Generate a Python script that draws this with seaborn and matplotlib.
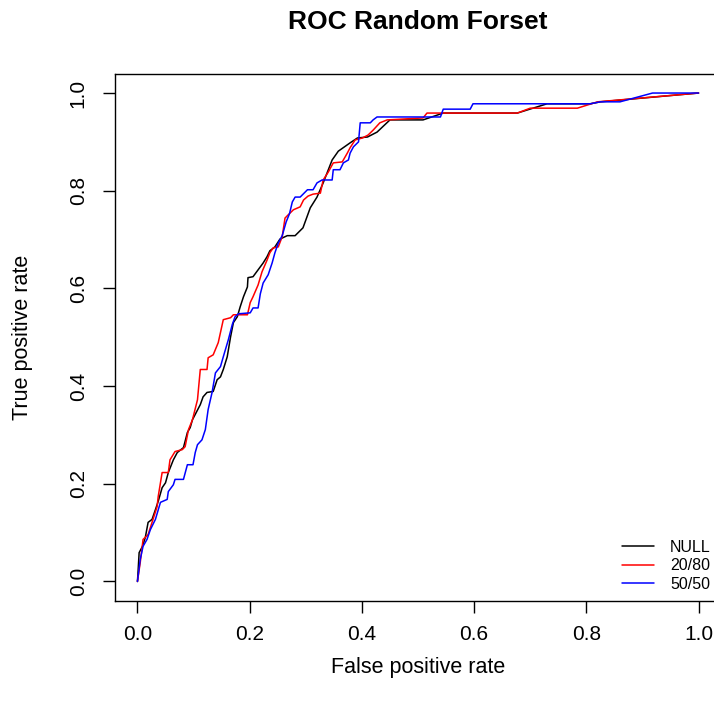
import numpy as np
import pandas as pd
import matplotlib
matplotlib.use("Agg")
import matplotlib.pyplot as plt
import seaborn as sns

# ---- data ----
series = ["NULL", "20/80", "50/50"]
colors = ["black", "red", "blue"]

null_fpr = [0, 0.001, 0.003, 0.009, 0.014, 0.019, 0.026, 0.032, 0.037, 0.044, 0.050, 0.055,
            0.064, 0.071, 0.082, 0.089, 0.094, 0.098, 0.112, 0.117, 0.124, 0.135, 0.142, 0.148,
            0.153, 0.160, 0.166, 0.171, 0.178, 0.183, 0.189, 0.196, 0.197, 0.206, 0.215, 0.224,
            0.231, 0.236, 0.245, 0.254, 0.267, 0.281, 0.295, 0.308, 0.320, 0.331, 0.347, 0.358,
            0.379, 0.392, 0.410, 0.427, 0.450, 0.509, 0.545, 0.677, 0.730, 0.807, 0.825, 1.0]
null_tpr = [0, 0.018, 0.059, 0.072, 0.090, 0.121, 0.127, 0.147, 0.164, 0.192, 0.202, 0.223,
            0.249, 0.264, 0.274, 0.305, 0.315, 0.331, 0.362, 0.378, 0.387, 0.389, 0.413, 0.419,
            0.434, 0.460, 0.501, 0.530, 0.542, 0.562, 0.583, 0.603, 0.622, 0.624, 0.638, 0.652,
            0.665, 0.677, 0.685, 0.701, 0.708, 0.708, 0.724, 0.765, 0.787, 0.816, 0.863, 0.881,
            0.898, 0.908, 0.910, 0.920, 0.945, 0.945, 0.959, 0.959, 0.978, 0.978, 0.982, 1.0]

r2080_fpr = [0, 0.005, 0.010, 0.019, 0.026, 0.035, 0.037, 0.044, 0.055, 0.058, 0.067, 0.080,
             0.085, 0.091, 0.098, 0.107, 0.112, 0.124, 0.126, 0.135, 0.144, 0.153, 0.166, 0.171,
             0.196, 0.201, 0.206, 0.215, 0.222, 0.231, 0.236, 0.242, 0.251, 0.258, 0.263, 0.269,
             0.278, 0.290, 0.296, 0.304, 0.313, 0.326, 0.331, 0.340, 0.349, 0.365, 0.374, 0.379,
             0.388, 0.401, 0.411, 0.420, 0.432, 0.445, 0.509, 0.516, 0.677, 0.700, 0.784, 0.820, 1.0]
r2080_tpr = [0, 0.039, 0.086, 0.096, 0.121, 0.153, 0.174, 0.223, 0.223, 0.249, 0.266, 0.270,
             0.276, 0.311, 0.331, 0.372, 0.434, 0.434, 0.458, 0.464, 0.489, 0.536, 0.540, 0.546,
             0.546, 0.571, 0.583, 0.607, 0.634, 0.658, 0.673, 0.683, 0.685, 0.706, 0.744, 0.751,
             0.761, 0.767, 0.781, 0.789, 0.793, 0.795, 0.822, 0.838, 0.857, 0.859, 0.877, 0.888,
             0.904, 0.908, 0.914, 0.924, 0.939, 0.945, 0.949, 0.959, 0.959, 0.969, 0.969, 0.982, 1.0]

r5050_fpr = [0, 0.005, 0.010, 0.017, 0.023, 0.032, 0.041, 0.053, 0.055, 0.064, 0.067, 0.082,
             0.089, 0.099, 0.103, 0.107, 0.115, 0.121, 0.126, 0.133, 0.139, 0.148, 0.153, 0.162,
             0.169, 0.174, 0.180, 0.201, 0.206, 0.215, 0.219, 0.224, 0.233, 0.240, 0.245, 0.251,
             0.258, 0.265, 0.271, 0.276, 0.281, 0.290, 0.303, 0.313, 0.320, 0.329, 0.347, 0.349,
             0.361, 0.367, 0.376, 0.379, 0.385, 0.394, 0.397, 0.415, 0.420, 0.427, 0.540, 0.545,
             0.593, 0.598, 0.807, 0.825, 0.860, 0.918, 1.0]
r5050_tpr = [0, 0.045, 0.072, 0.086, 0.106, 0.127, 0.162, 0.168, 0.184, 0.198, 0.209, 0.209,
             0.239, 0.239, 0.264, 0.280, 0.290, 0.311, 0.352, 0.387, 0.427, 0.440, 0.460, 0.495,
             0.526, 0.542, 0.548, 0.550, 0.560, 0.560, 0.589, 0.611, 0.628, 0.652, 0.673, 0.693,
             0.708, 0.736, 0.753, 0.777, 0.787, 0.787, 0.802, 0.802, 0.816, 0.822, 0.822, 0.843,
             0.843, 0.857, 0.863, 0.877, 0.890, 0.900, 0.939, 0.939, 0.945, 0.951, 0.951, 0.967,
             0.967, 0.978, 0.978, 0.982, 0.982, 1.0, 1.0]

ticks = [0.0, 0.2, 0.4, 0.6, 0.8, 1.0]
tick_labels = ["0.0", "0.2", "0.4", "0.6", "0.8", "1.0"]

# ---- build table ----
frames = []
for name, fx, fy in zip(series, [null_fpr, r2080_fpr, r5050_fpr], [null_tpr, r2080_tpr, r5050_tpr]):
    frames.append(pd.DataFrame({"fpr": fx, "tpr": fy, "model": name}))
df = pd.concat(frames, ignore_index=True)

sns.set_style("ticks")
plt.rcParams["font.family"] = ["Liberation Sans", "DejaVu Sans"]
plt.rcParams["text.color"] = "black"
plt.rcParams["axes.labelcolor"] = "black"
plt.rcParams["xtick.color"] = "black"
plt.rcParams["ytick.color"] = "black"

W, H = 714, 711
fig = plt.figure(figsize=(W / 100, H / 100), dpi=100)
left, right, top, bottom = 115, 721, 73.5, 601
ax = fig.add_axes([left / W, 1 - bottom / H, (right - left) / W, (bottom - top) / H])

sns.lineplot(data=df, x="fpr", y="tpr", hue="model", hue_order=series,
             palette=dict(zip(series, colors)), sort=False, estimator=None,
             linewidth=1.1, legend=False, ax=ax)

ax.set_xlim(-0.04, 1.04)
ax.set_ylim(-0.04, 1.04)
ax.set_xticks(ticks)
ax.set_xticklabels(tick_labels)
ax.set_yticks(ticks)
ax.set_yticklabels(tick_labels, rotation=90, va="center")
ax.tick_params(axis="both", length=8.6, width=1.0, color="black", labelsize=15, labelcolor="black")
ax.tick_params(axis="x", pad=9)
ax.tick_params(axis="y", pad=11)
for s in ax.spines.values():
    s.set_visible(True)
    s.set_color("black")
    s.set_linewidth(1.0)
ax.grid(False)

ax.set_xlabel("False positive rate", fontsize=15.5, color="black")
ax.set_ylabel("True positive rate", fontsize=15.5, color="black")
ax.xaxis.set_label_coords((418 - left) / (right - left), -(668 - bottom) / (bottom - top))
ax.xaxis.label.set_va("center")
ax.yaxis.set_label_coords(-(left - 22) / (right - left), 0.5)
ax.yaxis.label.set_va("center")
ax.yaxis.label.set_ha("center")

fig.text(418 / W, 1 - 22 / H, "ROC Random Forset", fontsize=19, fontweight="bold",
         ha="center", va="center", color="black")

handles = ax.get_lines()[:3]
leg = ax.legend(handles, series, loc="lower left", frameon=False, fontsize=11.5,
                bbox_to_anchor=(622 / W, 1 - 592 / H), bbox_transform=fig.transFigure,
                borderpad=0, borderaxespad=0, handlelength=2.0, handletextpad=1.0,
                labelspacing=0.22)
for t in leg.get_texts():
    t.set_color("black")

fig.savefig("out.png", dpi=100)
